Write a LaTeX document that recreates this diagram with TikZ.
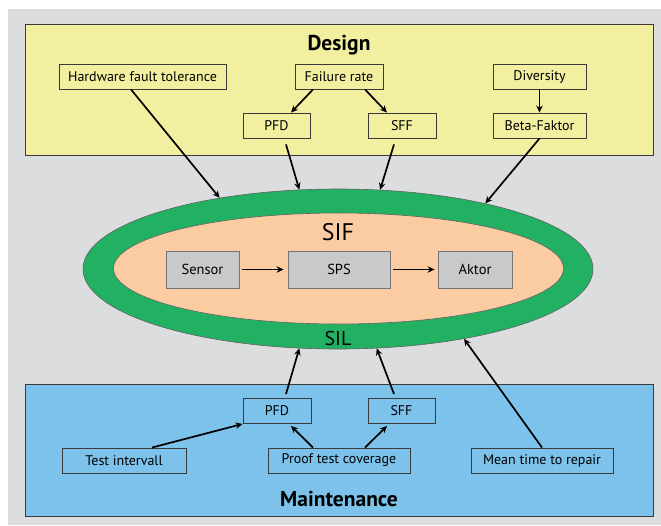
\documentclass[tikz,border=0pt]{standalone}
\usepackage{fontspec}
\setmainfont{PT Sans}
\usetikzlibrary{shapes.geometric,arrows.meta,calc}
\definecolor{bggrey}{HTML}{DCDDDE}
\definecolor{designyellow}{HTML}{F2F0A0}
\definecolor{maintblue}{HTML}{7CC2EA}
\definecolor{silgreen}{HTML}{22B063}
\definecolor{sifpeach}{HTML}{FBCBA1}
\definecolor{boxgrey}{HTML}{C8C9CA}
\definecolor{edge}{HTML}{3A3A3A}
\tikzset{
  lbl/.style={draw=edge, line width=0.9pt, minimum height=25pt, inner sep=0pt, font=\fontsize{14}{16}\selectfont},
  comp/.style={draw=edge!70, line width=0.9pt, fill=boxgrey, minimum height=37pt, inner sep=0pt, font=\fontsize{14.5}{16}\selectfont},
  arr/.style={line width=1.7pt, -{Stealth[length=7pt,width=6.5pt]}},
  region/.style={draw=edge, line width=0.9pt},
  heading/.style={font=\fontsize{21.5}{24}\selectfont\bfseries}
}
\begin{document}
\begin{tikzpicture}[x=1pt,y=-1pt]
\useasboundingbox (0,0) rectangle (661,525);
\fill[bggrey] (8,9) rectangle (661,525);
% regions
\draw[region, fill=designyellow] (25,24) rectangle (653,155);
\draw[region, fill=maintblue] (25,384) rectangle (653,516);
\node[heading] (design) at (339,45) {Design};
\node[heading] (maint) at (339,499) {Maintenance};
% design nodes
\node[lbl, minimum width=167pt] (hft) at (142.5,76.5) {Hardware fault tolerance};
\node[lbl, minimum width=88pt] (fr) at (339,76.5) {Failure rate};
\node[lbl, minimum width=93pt] (div) at (539.5,76.5) {Diversity};
\node[lbl, minimum width=67pt] (pfda) at (276.5,125.5) {PFD};
\node[lbl, minimum width=68pt] (sffa) at (402,125.5) {SFF};
\node[lbl, minimum width=93pt] (beta) at (539.5,125.5) {Beta-Faktor};
% maintenance nodes
\node[lbl, minimum width=68pt] (pfdb) at (277,411) {PFD};
\node[lbl, minimum width=67pt] (sffb) at (401.5,411) {SFF};
\node[lbl, minimum width=124pt] (ti) at (124,460.5) {Test intervall};
\node[lbl, minimum width=142pt] (ptc) at (339,460.5) {Proof test coverage};
\node[lbl, minimum width=142pt] (mttr) at (542,460.5) {Mean time to repair};
% ellipses
\node[ellipse, draw=edge!80, line width=0.6pt, fill=silgreen, minimum width=510pt, minimum height=160pt, inner sep=0pt] (sil) at (338,269) {};
\node[ellipse, draw=edge!80, line width=0.6pt, fill=sifpeach, minimum width=450pt, minimum height=111pt, inner sep=0pt] (sif) at (338.5,268.5) {};
\node[font=\fontsize{24}{26}\selectfont] (siflbl) at (338,232) {SIF};
\node[font=\fontsize{20}{22}\selectfont] (sillbl) at (338,338) {SIL};
% components
\node[comp, minimum width=73pt] (sensor) at (202.5,269.5) {Sensor};
\node[comp, minimum width=102pt] (sps) at (339,269.5) {SPS};
\node[comp, minimum width=74pt] (aktor) at (475,269.5) {Aktor};
\draw[arr, shorten <=3pt, shorten >=4pt] (sensor) -- (sps);
\draw[arr, shorten <=3pt, shorten >=3pt] (sps) -- (aktor);
% design arrows
\draw[arr] ([xshift=-26pt]fr.south) -- ([xshift=14.5pt]pfda.north);
\draw[arr] ([xshift=26pt]fr.south) -- ([xshift=-15pt]sffa.north);
\draw[arr] (div.south) -- (beta.north);
\draw[arr] ([xshift=-11.5pt]hft.south) -- (sil.149);
\draw[arr] ([xshift=9.5pt,yshift=-6pt]pfda.south) -- (sil.116);
\draw[arr] ([xshift=-8pt,yshift=-6pt]sffa.south) -- (sil.62);
\draw[arr] (beta.south) -- (sil.24);
% maintenance arrows
\draw[arr] ([xshift=28pt]ti.north) -- (pfdb.south west);
\draw[arr] ([xshift=-26pt]ptc.north) -- ([xshift=14pt,yshift=-2pt]pfdb.south);
\draw[arr] ([xshift=26pt]ptc.north) -- ([xshift=-14.5pt,yshift=-2pt]sffb.south);
\draw[arr] ([xshift=9pt,yshift=4pt]pfdb.north) -- (sil.244);
\draw[arr] ([xshift=-7.5pt,yshift=4pt]sffb.north) -- (sil.296);
\draw[arr] (mttr.north) -- (sil.331);
\end{tikzpicture}
\end{document}
